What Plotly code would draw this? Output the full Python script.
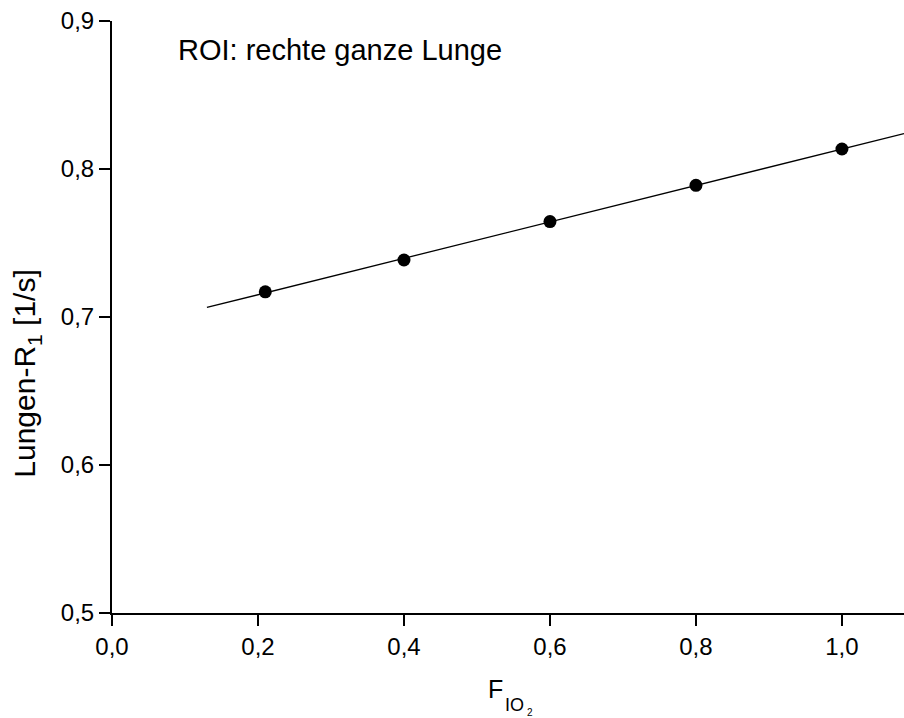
import numpy as np
import plotly.graph_objects as go

# Measured lung R1 versus inspired oxygen fraction
fio2 = [0.21, 0.4, 0.6, 0.8, 1.0]
r1 = [0.717, 0.7385, 0.7645, 0.789, 0.8135]

x_ticks = [0.0, 0.2, 0.4, 0.6, 0.8, 1.0]
y_ticks = [0.5, 0.6, 0.7, 0.8, 0.9]
fit_span = [0.13, 1.085]

# Linear regression through the measurements
slope, intercept = np.polyfit(fio2, r1, 1)
fit_x = np.array(fit_span)
fit_y = slope * fit_x + intercept

FONT = "Liberation Sans, Arial, sans-serif"

fig = go.Figure()
fig.add_trace(go.Scatter(x=fit_x, y=fit_y, mode="lines",
                         line=dict(color="black", width=1.3),
                         showlegend=False, hoverinfo="skip"))
fig.add_trace(go.Scatter(x=fio2, y=r1, mode="markers",
                         marker=dict(color="black", size=13),
                         showlegend=False))

axis_style = dict(showgrid=False, zeroline=False, showline=True,
                  linecolor="black", linewidth=2, ticks="outside",
                  ticklen=11, tickwidth=2, tickcolor="black",
                  tickformat=".1f", tickfont=dict(size=24))

fig.update_layout(
    width=904, height=718,
    margin=dict(l=112, r=0, t=21, b=105),
    paper_bgcolor="white", plot_bgcolor="white",
    separators=",.",
    font=dict(family=FONT, size=24, color="black"),
    xaxis=dict(range=[0, 1.085], tickvals=x_ticks, **axis_style),
    yaxis=dict(range=[0.5, 0.9], tickvals=y_ticks, **axis_style),
)

fig.add_annotation(text="ROI: rechte ganze Lunge", xref="paper", yref="paper",
                   x=0.081, y=0.951, xanchor="left", yanchor="middle",
                   showarrow=False, font=dict(size=29))

# y-axis title
fig.add_annotation(text="Lungen-R<sub>1</sub> [1/s]", xref="paper", yref="paper",
                   x=-0.108, y=0.405, xanchor="center", yanchor="middle",
                   textangle=-90, showarrow=False, font=dict(size=30))

# x-axis title with nested subscript
fig.add_annotation(text="F", xref="paper", yref="paper",
                   x=0.472, y=-0.128, xanchor="left", yanchor="middle",
                   showarrow=False, font=dict(size=25))
fig.add_annotation(text="IO", xref="paper", yref="paper",
                   x=0.495, y=-0.156, xanchor="left", yanchor="middle",
                   showarrow=False, font=dict(size=18), borderpad=0)
fig.add_annotation(text="2", xref="paper", yref="paper",
                   x=0.5225, y=-0.168, xanchor="left", yanchor="middle",
                   showarrow=False, font=dict(size=10), borderpad=0)

fig.write_html("out.html")
